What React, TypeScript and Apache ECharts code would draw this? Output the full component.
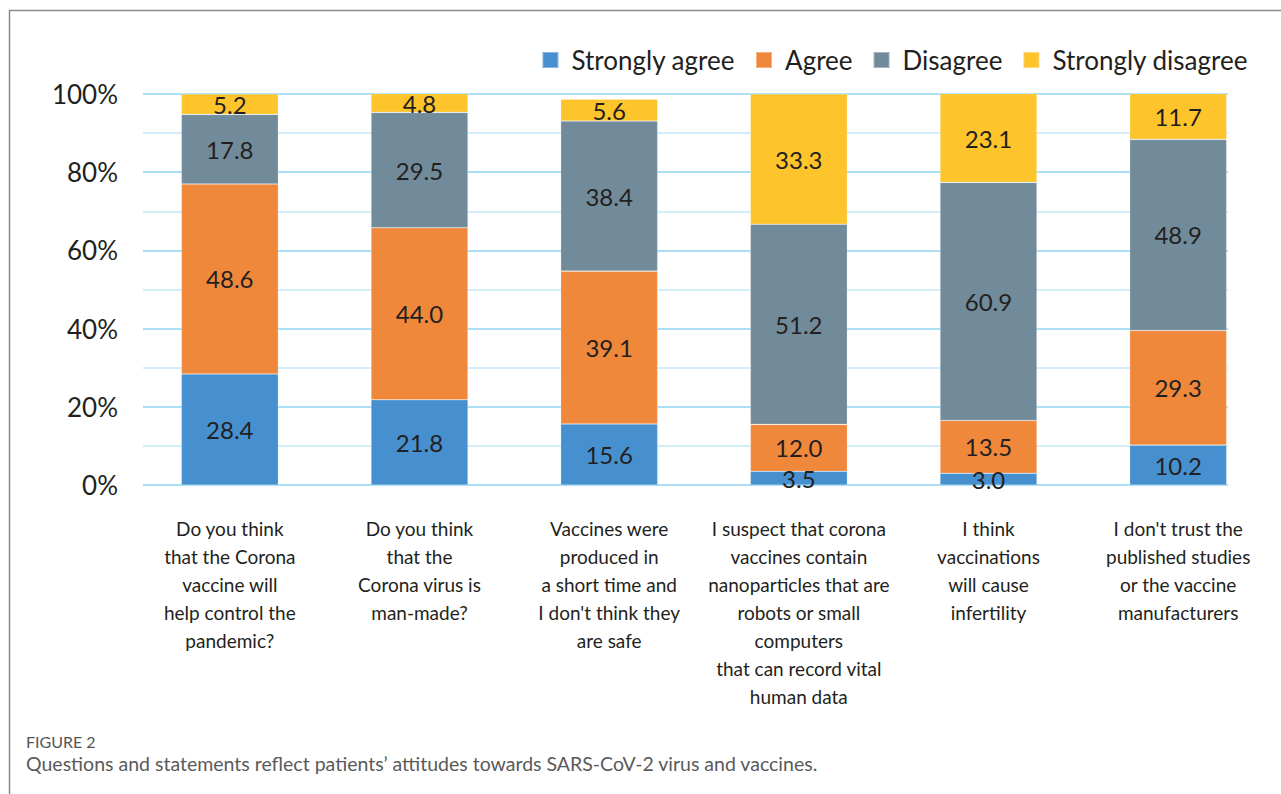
import React, { useEffect, useRef } from "react";
import * as echarts from "echarts";

// Survey statements shown along the x axis
const categories: string[] = [
  "Do you think\nthat the Corona\nvaccine will\nhelp control the\npandemic?",
  "Do you think\nthat the\nCorona virus is\nman-made?",
  "Vaccines were\nproduced in\na short time and\nI don't think they\nare safe",
  "I suspect that corona\nvaccines contain\nnanoparticles that are\nrobots or small\ncomputers\nthat can record vital\nhuman data",
  "I think\nvaccinations\nwill cause\ninfertility",
  "I don't trust the\npublished studies\nor the vaccine\nmanufacturers",
];

// Response shares (%) per statement
const stronglyAgree: number[] = [28.4, 21.8, 15.6, 3.5, 3.0, 10.2];
const agree: number[] = [48.6, 44.0, 39.1, 12.0, 13.5, 29.3];
const disagree: number[] = [17.8, 29.5, 38.4, 51.2, 60.9, 48.9];
const stronglyDisagree: number[] = [5.2, 4.8, 5.6, 33.3, 23.1, 11.7];

const seriesNames: string[] = ["Strongly agree", "Agree", "Disagree", "Strongly disagree"];
const seriesColors: string[] = ["#4690cf", "#f0883c", "#728b9a", "#fdc42b"];

const yTicks = { min: 0, max: 100, interval: 20 };

const FONT = "Lato, 'Open Sans', sans-serif";
const TEXT = "#231f20";

export default function App() {
  const ref = useRef<HTMLDivElement>(null);

  useEffect(() => {
    if (!ref.current) return;
    const chart = echarts.init(ref.current, undefined, { renderer: "svg" });

    const values = [stronglyAgree, agree, disagree, stronglyDisagree];
    const top = 94;
    const bottom = 794 - 485;

    const series = values.map((data, i) => ({
      name: seriesNames[i],
      type: "bar",
      stack: "total",
      xAxisIndex: 1,
      yAxisIndex: 1,
      barWidth: 97,
      data,
      itemStyle: { color: seriesColors[i], borderColor: "rgba(255,255,255,0.35)", borderWidth: 0.6 },
      label: {
        show: true,
        position: "inside",
        formatter: (p: any) => Number(p.value).toFixed(1),
        fontFamily: FONT,
        fontSize: 24,
        color: TEXT,
      },
    }));

    chart.setOption({
      animation: false,
      backgroundColor: "#ffffff",
      textStyle: { fontFamily: FONT },
      legend: {
        data: seriesNames,
        right: 28,
        top: 42,
        itemWidth: 16,
        itemHeight: 16,
        itemGap: 20,
        icon: "rect",
        textStyle: { fontFamily: FONT, fontSize: 26, color: TEXT, padding: [0, 0, 0, 8] },
      },
      grid: [
        // grid holding the y scale and its gridlines
        { left: 143, right: 1281 - 1228, top, bottom },
        // grid holding the bars
        { left: 135, right: 8, top, bottom },
      ],
      xAxis: [
        { gridIndex: 0, type: "value", show: false, min: 0, max: 1 },
        {
          gridIndex: 1,
          type: "category",
          data: categories,
          axisLine: { show: false },
          axisTick: { show: false },
          axisLabel: {
            interval: 0,
            margin: 29,
            fontFamily: FONT,
            fontSize: 19,
            lineHeight: 28,
            color: TEXT,
            align: "center",
            verticalAlign: "top",
          },
        },
      ],
      yAxis: [
        {
          gridIndex: 0,
          type: "value",
          min: yTicks.min,
          max: yTicks.max,
          interval: yTicks.interval,
          axisLine: { show: false },
          axisTick: { show: false },
          axisLabel: {
            formatter: "{value}%",
            margin: 25,
            fontFamily: FONT,
            fontSize: 26,
            color: TEXT,
          },
          splitLine: { show: true, lineStyle: { color: "#8fd6f3", width: 1.5 } },
          minorTick: { show: false, splitNumber: 2 },
          minorSplitLine: { show: true, lineStyle: { color: "#c4e9f8", width: 1.5 } },
        },
        {
          gridIndex: 1,
          type: "value",
          min: yTicks.min,
          max: yTicks.max,
          show: false,
          splitLine: { show: false },
        },
      ],
      series,
      graphic: [
        {
          type: "rect",
          shape: { x: 9.5, y: 10.5, width: 1300, height: 900 },
          style: { fill: "none", stroke: "#8a8a8a", lineWidth: 1.5 },
          silent: true,
        },
        {
          type: "text",
          x: 26,
          y: 741,
          style: {
            text: "FIGURE 2",
            fontFamily: FONT,
            fontSize: 16,
            fill: "#555555",
            verticalAlign: "middle",
          },
        },
        {
          type: "text",
          x: 26,
          y: 763,
          style: {
            text: "Questions and statements reflect patients\u2019 attitudes towards SARS-CoV-2 virus and vaccines.",
            fontFamily: FONT,
            fontSize: 19.5,
            fill: "#5a5a5a",
            verticalAlign: "middle",
          },
        },
      ],
    });

    return () => chart.dispose();
  }, []);

  return (
    <div
      ref={ref}
      style={{ position: "fixed", left: 0, top: 0, width: 1281, height: 794 }}
    />
  );
}
